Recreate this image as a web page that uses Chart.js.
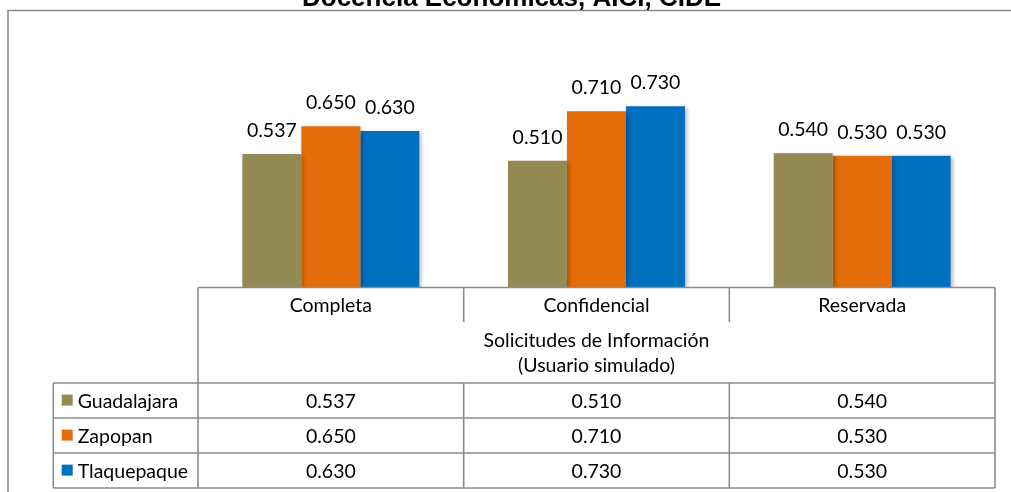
<!DOCTYPE html>
<html>
<head>
<meta charset="utf-8">
<script src="https://cdn.jsdelivr.net/npm/chart.js@4/dist/chart.umd.min.js"></script>
<style>
  html, body { margin:0; padding:0; background:#fff; }
  #c { display:block; }
</style>
</head>
<body>
<canvas id="c" width="1011" height="492"></canvas>
<script>
const chartTitle = "Docencia Económicas, AICI, CIDE";
const categories = ["Completa", "Confidencial", "Reservada"];
const seriesNames = ["Guadalajara", "Zapopan", "Tlaquepaque"];
const guadalajara = [0.537, 0.510, 0.540];
const zapopan = [0.650, 0.710, 0.530];
const tlaquepaque = [0.630, 0.730, 0.530];
const axisTitle = ["Solicitudes de Información", "(Usuario simulado)"];
const colors = ["#948A54", "#E46C0A", "#0070C0"];

const FONT = '19.5px Lato';
const LINE = '#8c8c8c';

// frame + cut-off title
const framePlugin = {
  id: 'frame',
  beforeDraw(chart){
    const ctx = chart.ctx;
    ctx.save();
    ctx.fillStyle = '#fff';
    ctx.fillRect(0, 0, chart.width, chart.height);
    ctx.strokeStyle = LINE;
    ctx.lineWidth = 1.6;
    ctx.beginPath();
    ctx.moveTo(8, 492); ctx.lineTo(8, 10.5); ctx.lineTo(1011, 10.5);
    ctx.stroke();
    ctx.fillStyle = '#000';
    ctx.font = 'bold 26px "Liberation Sans", Arial';
    ctx.textAlign = 'center';
    ctx.textBaseline = 'alphabetic';
    ctx.fillText(chartTitle, 511.5, 6);
    ctx.restore();
  }
};

// soft shadow under the bars
const shadowPlugin = {
  id: 'barShadow',
  beforeDatasetsDraw(chart){
    const ctx = chart.ctx;
    ctx.save();
    ctx.shadowColor = 'rgba(0,0,0,0.28)';
    ctx.shadowBlur = 4;
    ctx.shadowOffsetX = 2;
    ctx.shadowOffsetY = 2;
  },
  afterDatasetsDraw(chart){
    chart.ctx.restore();
  }
};

// value labels above the bars
const labelPlugin = {
  id: 'valueLabels',
  afterDraw(chart){
    const ctx = chart.ctx;
    ctx.save();
    ctx.font = FONT;
    ctx.fillStyle = '#000';
    ctx.textAlign = 'center';
    ctx.textBaseline = 'alphabetic';
    chart.data.datasets.forEach((ds, i) => {
      chart.getDatasetMeta(i).data.forEach((bar, j) => {
        ctx.fillText(ds.data[j].toFixed(3), bar.x, bar.y - 17);
      });
    });
    ctx.restore();
  }
};

// data table under the plot, used as the x axis
const tablePlugin = {
  id: 'dataTable',
  afterDraw(chart){
    const ctx = chart.ctx;
    const xs = chart.scales.x;
    const left = chart.chartArea.left, right = chart.chartArea.right;
    const top = chart.chartArea.bottom + 0.5;
    const catRowBottom = top + 34.5;
    const dataTop = top + 95.5;
    const rowH = 35;
    const legLeft = 53.3;
    const n = categories.length;
    const step = (right - left) / n;
    const bounds = [];
    for (let i = 0; i <= n; i++) bounds.push(left + step * i);

    ctx.save();
    ctx.strokeStyle = LINE;
    ctx.lineWidth = 1.6;
    ctx.beginPath();
    // header box
    ctx.moveTo(left, top); ctx.lineTo(right, top);
    ctx.moveTo(left, top); ctx.lineTo(left, dataTop + rowH * 3);
    ctx.moveTo(right, top); ctx.lineTo(right, dataTop + rowH * 3);
    for (let i = 1; i < n; i++) {
      ctx.moveTo(bounds[i], top); ctx.lineTo(bounds[i], catRowBottom);
      ctx.moveTo(bounds[i], dataTop); ctx.lineTo(bounds[i], dataTop + rowH * 3);
    }
    // data rows
    for (let r = 0; r <= 3; r++) {
      ctx.moveTo(legLeft, dataTop + rowH * r); ctx.lineTo(right, dataTop + rowH * r);
    }
    ctx.moveTo(legLeft, dataTop); ctx.lineTo(legLeft, dataTop + rowH * 3);
    ctx.stroke();

    ctx.fillStyle = '#000';
    ctx.font = FONT;
    ctx.textBaseline = 'alphabetic';
    ctx.textAlign = 'center';
    categories.forEach((c, i) => {
      ctx.fillText(c, xs.getPixelForValue(i), top + 24.5);
    });
    const mid = (left + right) / 2;
    ctx.fillText(axisTitle[0], mid, top + 59.5);
    ctx.fillText(axisTitle[1], mid, top + 84);

    chart.data.datasets.forEach((ds, r) => {
      const rt = dataTop + rowH * r;
      ctx.textAlign = 'center';
      ds.data.forEach((v, i) => {
        ctx.fillText(v.toFixed(3), xs.getPixelForValue(i), rt + 24.5);
      });
      ctx.fillStyle = ds.backgroundColor;
      ctx.fillRect(61.7, rt + 11.6, 11, 11);
      ctx.fillStyle = '#000';
      ctx.textAlign = 'left';
      ctx.fillText(ds.label, 77.7, rt + 24.5);
    });
    ctx.restore();
  }
};

const seriesValues = [guadalajara, zapopan, tlaquepaque];

new Chart(document.getElementById('c'), {
  type: 'bar',
  data: {
    labels: categories,
    datasets: seriesNames.map((name, i) => ({
      label: name,
      data: seriesValues[i],
      backgroundColor: colors[i],
      borderWidth: 0,
      categoryPercentage: 0.666,
      barPercentage: 1.0
    }))
  },
  options: {
    responsive: false,
    animation: false,
    devicePixelRatio: 1,
    layout: { padding: { left: 198, right: 16, top: 89, bottom: 205 } },
    plugins: {
      legend: { display: false },
      title: { display: false },
      tooltip: { enabled: false }
    },
    scales: {
      x: { display: false },
      y: { display: false, min: 0, max: 0.8 }
    }
  },
  plugins: [framePlugin, shadowPlugin, labelPlugin, tablePlugin]
});
</script>
</body>
</html>
